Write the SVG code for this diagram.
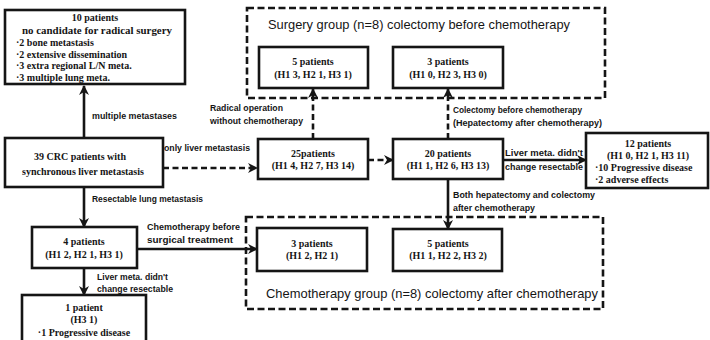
<svg xmlns="http://www.w3.org/2000/svg" width="710" height="340" viewBox="0 0 710 340">
<defs>
<style>
.box{fill:#fff;stroke:#151515;stroke-width:2.6}
.grp{fill:none;stroke:#151515;stroke-width:2.6;stroke-dasharray:7 3.5}
.t{font-family:"Liberation Serif",serif;font-weight:bold;font-size:10px;fill:#151515}
.c{text-anchor:middle}
.l{font-family:"Liberation Sans",sans-serif;font-weight:bold;font-size:9.4px;fill:#151515}
.g{font-family:"Liberation Sans",sans-serif;font-size:13.5px;fill:#151515}
.ln{fill:none;stroke:#151515;stroke-width:2.6}
.dl{fill:none;stroke:#151515;stroke-width:2.6;stroke-dasharray:6 3.5}
</style>
<marker id="ah" viewBox="0 0 10 10" refX="9" refY="5" markerWidth="10" markerHeight="10" markerUnits="userSpaceOnUse" orient="auto">
<path d="M0,0 L10,5 L0,10 L3,5 z" fill="#151515"/>
</marker>
</defs>
<rect width="710" height="340" fill="#fff"/>

<g id="surgery-group">
<rect class="grp" x="247" y="8" width="358" height="90"/>
<text class="g" x="268" y="29" textLength="302" lengthAdjust="spacingAndGlyphs">Surgery group (n=8) colectomy before chemotherapy</text>
</g>
<g id="chemo-group">
<rect class="grp" x="246" y="217" width="357" height="92"/>
<text class="g" x="266" y="298" textLength="332" lengthAdjust="spacingAndGlyphs">Chemotherapy group (n=8) colectomy after chemotherapy</text>
</g>

<g id="connectors">
<line class="ln" x1="84" y1="138" x2="84" y2="86" marker-end="url(#ah)"/>
<line class="ln" x1="84" y1="187" x2="84" y2="227" marker-end="url(#ah)"/>
<line class="ln" x1="84" y1="268" x2="84" y2="295" marker-end="url(#ah)"/>
<line class="ln" x1="137" y1="249" x2="257" y2="249" marker-end="url(#ah)"/>
<line class="dl" x1="163" y1="168" x2="257" y2="168" marker-end="url(#ah)"/>
<line class="dl" x1="368" y1="160" x2="393" y2="160" marker-end="url(#ah)"/>
<line class="dl" x1="313" y1="139" x2="313" y2="89" marker-end="url(#ah)"/>
<line class="dl" x1="448" y1="139" x2="448" y2="89" marker-end="url(#ah)"/>
<line class="ln" x1="503" y1="160" x2="586" y2="160" marker-end="url(#ah)"/>
<line class="ln" x1="448" y1="179" x2="448" y2="229" marker-end="url(#ah)"/>
<text class="l" x="92" y="119" textLength="85" lengthAdjust="spacingAndGlyphs">multiple metastases</text>
<text class="l" x="92" y="202" textLength="111" lengthAdjust="spacingAndGlyphs">Resectable lung metastasis</text>
<text class="l" x="164" y="151" textLength="86" lengthAdjust="spacingAndGlyphs">only liver metastasis</text>
<text class="l" x="210" y="111" textLength="73" lengthAdjust="spacingAndGlyphs">Radical operation</text>
<text class="l" x="210" y="124" textLength="93" lengthAdjust="spacingAndGlyphs">without chemotherapy</text>
<text class="l" x="453" y="113" textLength="129" lengthAdjust="spacingAndGlyphs">Colectomy before chemotherapy</text>
<text class="l" x="453" y="126" textLength="149" lengthAdjust="spacingAndGlyphs">(Hepatectomy after chemotherapy)</text>
<text class="l" x="505" y="156" textLength="78" lengthAdjust="spacingAndGlyphs">Liver meta. didn't</text>
<text class="l" x="505" y="170" textLength="78" lengthAdjust="spacingAndGlyphs">change resectable</text>
<text class="l" x="453" y="198" textLength="142" lengthAdjust="spacingAndGlyphs">Both hepatectomy and colectomy</text>
<text class="l" x="453" y="211" textLength="82" lengthAdjust="spacingAndGlyphs">after chemotherapy</text>
<text class="l" x="147" y="230" textLength="93" lengthAdjust="spacingAndGlyphs">Chemotherapy before</text>
<text class="l" x="147" y="243" textLength="86" lengthAdjust="spacingAndGlyphs">surgical treatment</text>
<text class="l" x="97" y="280" textLength="71" lengthAdjust="spacingAndGlyphs">Liver meta. didn't</text>
<text class="l" x="97" y="292" textLength="76" lengthAdjust="spacingAndGlyphs">change resectable</text>
</g>

<g id="n10">
<rect class="box" x="5" y="10" width="180" height="74"/>
<text class="t c" x="95" y="21">10 patients</text>
<text class="t c" x="97" y="34" textLength="150" lengthAdjust="spacingAndGlyphs">no candidate for radical  surgery</text>
<text class="t" x="16" y="46">·2 bone metastasis</text>
<text class="t" x="16" y="57.5">·2 extensive dissemination</text>
<text class="t" x="16" y="69">·3 extra regional L/N meta.</text>
<text class="t" x="16" y="81">·3 multiple lung meta.</text>
</g>
<g id="crc">
<rect class="box" x="5" y="138" width="158" height="49"/>
<text class="t c" x="80" y="160">39 CRC patients with</text>
<text class="t c" x="83" y="175">synchronous liver  metastasis</text>
</g>
<g id="n4">
<rect class="box" x="32" y="227" width="105" height="41"/>
<text class="t c" x="84" y="245">4 patients</text>
<text class="t c" x="84" y="258">(H1 2, H2 1, H3 1)</text>
</g>
<g id="n1">
<rect class="box" x="22" y="295" width="124" height="60"/>
<text class="t c" x="84" y="311">1 patient</text>
<text class="t c" x="84" y="323">(H3 1)</text>
<text class="t c" x="84" y="336">·1 Progressive disease</text>
</g>
<g id="n5s">
<rect class="box" x="259" y="47" width="109" height="41"/>
<text class="t c" x="313" y="65">5 patients</text>
<text class="t c" x="313" y="78">(H1 3, H2 1, H3 1)</text>
</g>
<g id="n3s">
<rect class="box" x="393" y="47" width="110" height="41"/>
<text class="t c" x="448" y="65">3 patients</text>
<text class="t c" x="448" y="78">(H1 0, H2 3, H3 0)</text>
</g>
<g id="n25">
<rect class="box" x="258" y="139" width="110" height="40"/>
<text class="t c" x="313" y="157">25patients</text>
<text class="t c" x="313" y="169">(H1 4, H2 7, H3 14)</text>
</g>
<g id="n20">
<rect class="box" x="393" y="139" width="110" height="40"/>
<text class="t c" x="448" y="157">20 patients</text>
<text class="t c" x="448" y="169">(H1 1, H2 6, H3 13)</text>
</g>
<g id="n12">
<rect class="box" x="586" y="133" width="122" height="55"/>
<text class="t c" x="648" y="147">12 patients</text>
<text class="t c" x="648" y="159">(H1 0, H2 1, H3 11)</text>
<text class="t" x="595" y="171">·10 Progressive disease</text>
<text class="t" x="595" y="183">·2 adverse effects</text>
</g>
<g id="n3c">
<rect class="box" x="257" y="228" width="110" height="43"/>
<text class="t c" x="312" y="247">3 patients</text>
<text class="t c" x="312" y="259">(H1 2, H2 1)</text>
</g>
<g id="n5c">
<rect class="box" x="393" y="229" width="109" height="42"/>
<text class="t c" x="448" y="247">5 patients</text>
<text class="t c" x="448" y="259">(H1 1, H2 2, H3 2)</text>
</g>
</svg>
